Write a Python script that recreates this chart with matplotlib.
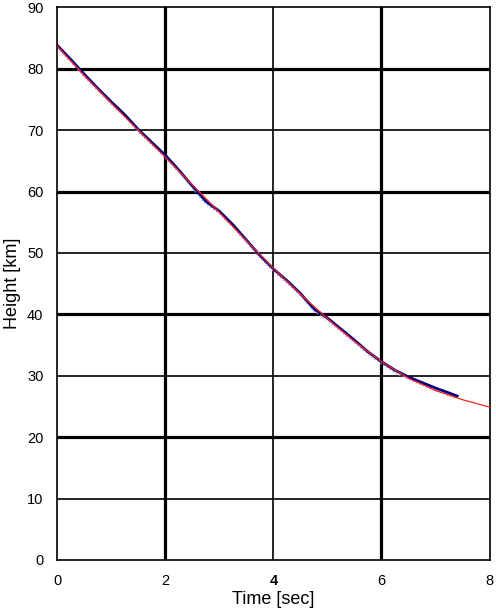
import matplotlib
matplotlib.use('Agg')
import matplotlib.pyplot as plt

# fitted trajectory (red)
t_fit = [0, 0.5, 1.0, 1.5, 2.0, 2.5, 3.0, 3.5, 4.0, 4.5, 5.0, 5.5, 6.0, 6.5, 7.0, 7.5, 8.0]
h_fit = [83.7, 78.9, 74.4, 70.0, 65.6, 61.1, 56.6, 52.0, 47.5, 43.3, 39.3, 35.6, 32.3, 29.6, 27.6, 26.1, 24.9]

# measured heights (blue)
t_meas = [0, 0.25, 0.5, 0.75, 1.0, 1.25, 1.5, 1.75, 2.0, 2.25, 2.5, 2.75, 3.0, 3.25, 3.5,
          3.75, 4.0, 4.25, 4.5, 4.75, 5.0, 5.25, 5.5, 5.75, 6.0, 6.25, 6.5, 6.75, 7.0, 7.25, 7.4]
h_meas = [83.8, 81.5, 79.1, 76.8, 74.6, 72.5, 70.1, 68.0, 65.9, 63.5, 60.9, 58.4, 56.8, 54.6, 52.1,
          49.6, 47.4, 45.5, 43.4, 40.9, 39.4, 37.6, 35.8, 33.9, 32.3, 30.9, 29.8, 28.9, 28.0, 27.2, 26.7]

x_ticks = [0, 2, 4, 6, 8]
y_ticks = [0, 10, 20, 30, 40, 50, 60, 70, 80, 90]
thick_x = [2, 6]
thin_x = [4]
thick_y = [20, 40, 60, 80]
thin_y = [10, 30, 50, 70]

plt.rcParams['font.family'] = ['Liberation Sans', 'DejaVu Sans']

fig = plt.figure(figsize=(4.96, 6.14), dpi=100)
ax = fig.add_axes([0.1155, 0.088, 0.8715, 0.9])

for x in thick_x:
    ax.axvline(x, color='k', lw=2.3, zorder=1)
for x in thin_x:
    ax.axvline(x, color='k', lw=1.2, zorder=1)
for y in thick_y:
    ax.axhline(y, color='k', lw=2.3, zorder=1)
for y in thin_y:
    ax.axhline(y, color='k', lw=1.2, zorder=1)

ax.plot(t_meas, h_meas, color='#000080', lw=2.0, zorder=2)
ax.plot(t_meas, [h - 0.4 for h in h_meas], color='#9a9ad0', lw=1.0, ls=':', zorder=2)
ax.plot(t_fit, h_fit, color='#ff2020', lw=0.9, zorder=3)

ax.set_xlim(0, 8)
ax.set_ylim(0, 90)
ax.set_xticks(x_ticks)
ax.set_yticks(y_ticks)
ax.tick_params(length=0, labelsize=10.5)
ax.tick_params(axis='y', pad=10)
ax.tick_params(axis='x', pad=10)
ax.get_xticklabels()[2].set_fontweight('bold')
for s in ax.spines.values():
    s.set_linewidth(1.2)

ax.set_xlabel('Time [sec]', fontsize=13, labelpad=2)
ax.set_ylabel('Height [km]', fontsize=13, labelpad=4)

fig.savefig('out.png', dpi=100)
